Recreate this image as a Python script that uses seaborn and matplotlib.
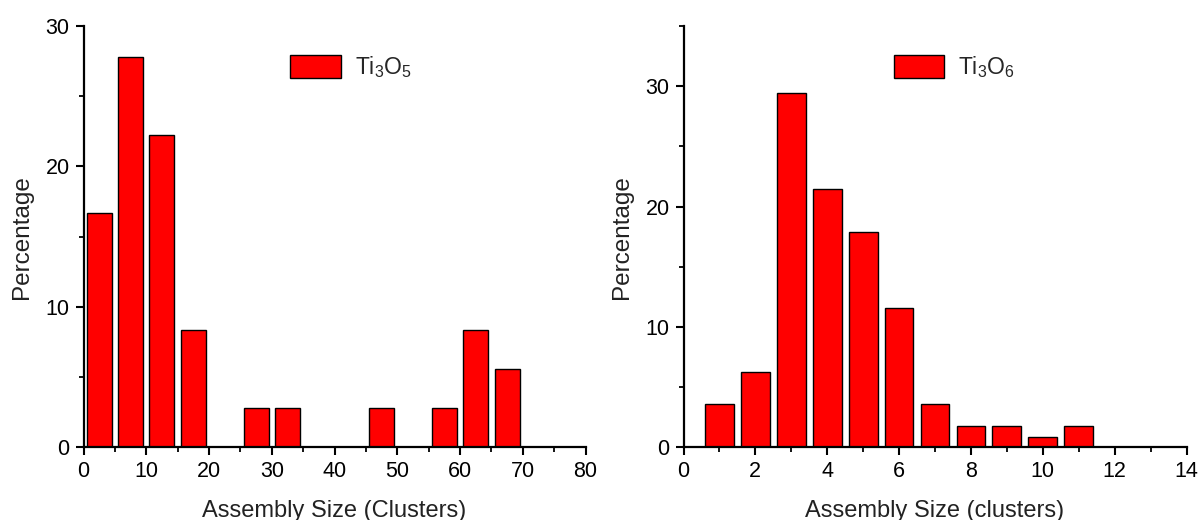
import matplotlib
matplotlib.use("Agg")
import matplotlib.pyplot as plt
from matplotlib.ticker import MultipleLocator
import seaborn as sns
import pandas as pd

sns.set_theme(style="ticks")
plt.rcParams["font.family"] = ["Liberation Sans", "DejaVu Sans"]
plt.rcParams["mathtext.fontset"] = "custom"
plt.rcParams["mathtext.rm"] = "Liberation Sans"
plt.rcParams["mathtext.it"] = "Liberation Sans"

# Ti3O5: assembly size bins (centres, width 5) and percentage per bin
ti3o5_size = [2.5, 7.5, 12.5, 17.5, 27.5, 32.5, 47.5, 57.5, 62.5, 67.5]
ti3o5_pct = [16.67, 27.78, 22.22, 8.33, 2.78, 2.78, 2.78, 2.78, 8.33, 5.56]

# Ti3O6: assembly size in clusters and percentage
ti3o6_size = [1, 2, 3, 4, 5, 6, 7, 8, 9, 10, 11]
ti3o6_pct = [3.57, 6.25, 29.46, 21.43, 17.86, 11.61, 3.57, 1.79, 1.79, 0.89, 1.79]

panels = [
    dict(x=ti3o5_size, y=ti3o5_pct, label=r"Ti$_3$O$_5$",
         xlabel="Assembly Size (Clusters)", xlim=(0, 80), ylim=(0, 30),
         xmaj=10, xmin=5, leg_x=0.394),
    dict(x=ti3o6_size, y=ti3o6_pct, label=r"Ti$_3$O$_6$",
         xlabel="Assembly Size (clusters)", xlim=(0, 14), ylim=(0, 35),
         xmaj=2, xmin=1, leg_x=0.400),
]

W, H = 1199, 520
fig = plt.figure(figsize=(W / 100, H / 100), dpi=100)
axes = [
    fig.add_axes([83.5 / W, 1 - 447.3 / H, 502 / W, 421.3 / H]),
    fig.add_axes([683.5 / W, 1 - 447.3 / H, 503 / W, 421.3 / H]),
]

for ax, p in zip(axes, panels):
    df = pd.DataFrame({"size": p["x"], "pct": p["y"]})
    sns.barplot(data=df, x="size", y="pct", native_scale=True, width=0.8,
                color="#ff0000", saturation=1, edgecolor="black",
                linewidth=1.0, label=p["label"], ax=ax)
    ax.set_xlim(*p["xlim"])
    ax.set_ylim(*p["ylim"])
    ax.xaxis.set_major_locator(MultipleLocator(p["xmaj"]))
    ax.xaxis.set_minor_locator(MultipleLocator(p["xmin"]))
    ax.yaxis.set_major_locator(MultipleLocator(10))
    ax.yaxis.set_minor_locator(MultipleLocator(5))
    for side in ("top", "right"):
        ax.spines[side].set_visible(False)
    for side in ("left", "bottom"):
        ax.spines[side].set_linewidth(1.6)
        ax.spines[side].set_color("black")
    ax.tick_params(which="major", direction="out", length=5.5, width=1.5,
                   labelsize=15.5, colors="black", pad=4.5)
    ax.tick_params(which="minor", direction="out", length=3.5, width=1.3,
                   colors="black")
    ax.set_xlabel(p["xlabel"], fontsize=17, labelpad=13, color="#222222")
    ax.set_ylabel("Percentage", fontsize=17.5, labelpad=9, color="#222222")
    ax.legend(loc="upper left", bbox_to_anchor=(p["leg_x"], 0.955),
              frameon=False, fontsize=16.5, handlelength=2.2,
              handleheight=1.15, handletextpad=0.6, borderaxespad=0)

fig.savefig("out.png", dpi=100)
